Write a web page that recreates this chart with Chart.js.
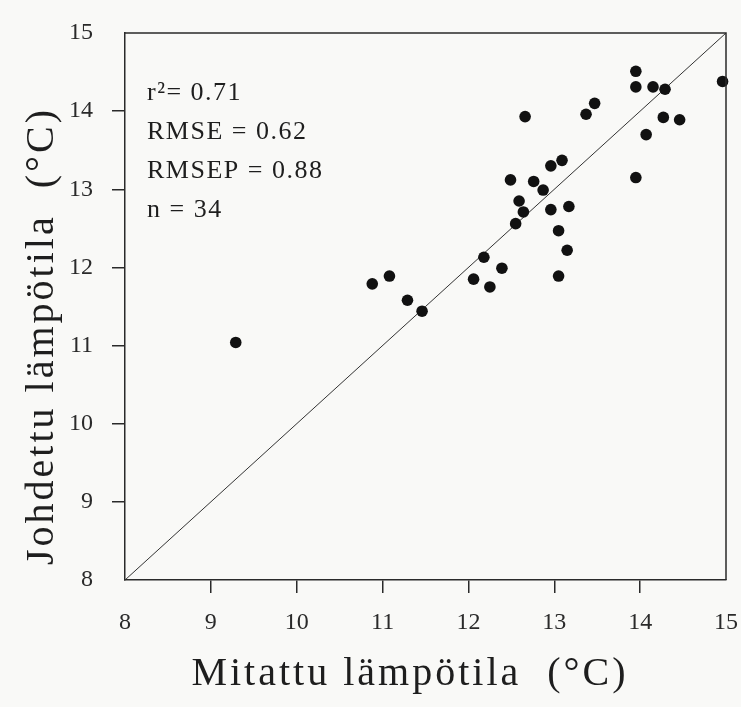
<!DOCTYPE html>
<html>
<head>
<meta charset="utf-8">
<script src="https://cdn.jsdelivr.net/npm/chart.js@4"></script>
<style>
  html, body { margin: 0; padding: 0; background: #f9f9f7; }
  #wrap { width: 741px; height: 707px; position: relative; }
</style>
</head>
<body>
<div id="wrap"><canvas id="tempChart"></canvas></div>
<script>
// measured vs derived water temperature (°C)
const measured = [9.29, 10.88, 11.08, 11.29, 11.46, 12.06, 12.18, 12.25, 12.39, 12.55, 12.64, 12.59,
  12.49, 12.76, 12.87, 12.96, 12.96, 13.09, 13.05, 13.15, 13.17, 13.05, 12.66, 13.37, 13.47,
  13.95, 13.95, 14.15, 14.29, 14.96, 14.27, 14.46, 14.07, 13.95];
const derived = [11.04, 11.79, 11.89, 11.58, 11.44, 11.85, 12.13, 11.75, 11.99, 12.56, 12.71, 12.85,
  13.12, 13.10, 12.99, 12.74, 13.30, 13.37, 12.47, 12.22, 12.78, 11.89, 13.93, 13.96, 14.10,
  14.51, 14.31, 14.31, 14.28, 14.38, 13.92, 13.89, 13.70, 13.15];
const axisMin = 8;
const axisMax = 15;
const statsLines = ["r\u00b2= 0.71", "RMSE = 0.62", "RMSEP = 0.88", "n = 34"];
const xTitle = "Mitattu lämpötila  (°C)";
const yTitle = "Johdettu lämpötila  (°C)";

const serif = "'Liberation Serif', 'Times New Roman', serif";
const ink = "#2a2a2a";

const points = measured.map((v, i) => ({ x: v, y: derived[i] }));

const tickColor = c => (c.tick && (c.tick.value === axisMin || c.tick.value === axisMax)) ? "rgba(0,0,0,0)" : ink;

const frameAndText = {
  id: "frameAndText",
  afterDraw(chart) {
    const { ctx, chartArea: a } = chart;
    ctx.save();
    ctx.strokeStyle = ink;
    ctx.lineWidth = 1.5;
    ctx.beginPath();
    ctx.moveTo(a.left, a.top);
    ctx.lineTo(a.right, a.top);
    ctx.lineTo(a.right, a.bottom);
    ctx.stroke();

    ctx.fillStyle = "#1e1e1e";
    ctx.font = "26px " + serif;
    ctx.letterSpacing = "1.5px";
    ctx.textAlign = "left";
    ctx.textBaseline = "alphabetic";
    statsLines.forEach((t, i) => ctx.fillText(t, a.left + 22, a.top + 67 + i * 39));

    ctx.font = "40px " + serif;
    ctx.letterSpacing = "3px";
    ctx.textAlign = "center";
    ctx.fillText(xTitle, 410, 685);
    ctx.translate(53, 336);
    ctx.rotate(-Math.PI / 2);
    ctx.fillText(yTitle, 0, 0);
    ctx.restore();
  }
};

new Chart(document.getElementById("tempChart"), {
  type: "scatter",
  data: {
    datasets: [{
      label: "observations",
      data: points,
      backgroundColor: "#111",
      borderWidth: 0,
      pointRadius: 5.8,
      clip: false
    }, {
      type: "line",
      label: "1:1",
      data: [{ x: axisMin, y: axisMin }, { x: axisMax, y: axisMax }],
      borderColor: "#333",
      borderWidth: 1,
      pointRadius: 0,
      fill: false
    }]
  },
  options: {
    responsive: true,
    maintainAspectRatio: false,
    animation: false,
    layout: { padding: { top: 33, right: 15, left: 0, bottom: 0 } },
    plugins: { legend: { display: false }, tooltip: { enabled: false } },
    scales: {
      x: {
        type: "linear",
        min: axisMin, max: axisMax,
        afterFit: s => { s.height = 127; s.paddingLeft = 0; s.paddingRight = 0; },
        ticks: { stepSize: 1, color: ink, padding: 15, font: { family: serif, size: 24 } },
        grid: { drawOnChartArea: false, tickLength: 13, color: tickColor, lineWidth: 1.5 },
        border: { color: ink, width: 1.5 }
      },
      y: {
        type: "linear",
        min: axisMin, max: axisMax,
        afterFit: s => { s.width = 125; s.paddingTop = 0; s.paddingBottom = 0; },
        ticks: { stepSize: 1, color: ink, padding: 19, font: { family: serif, size: 24 } },
        grid: { drawOnChartArea: false, tickLength: 13, color: tickColor, lineWidth: 1.5 },
        border: { color: ink, width: 1.5 }
      }
    }
  },
  plugins: [frameAndText]
});
</script>
</body>
</html>
